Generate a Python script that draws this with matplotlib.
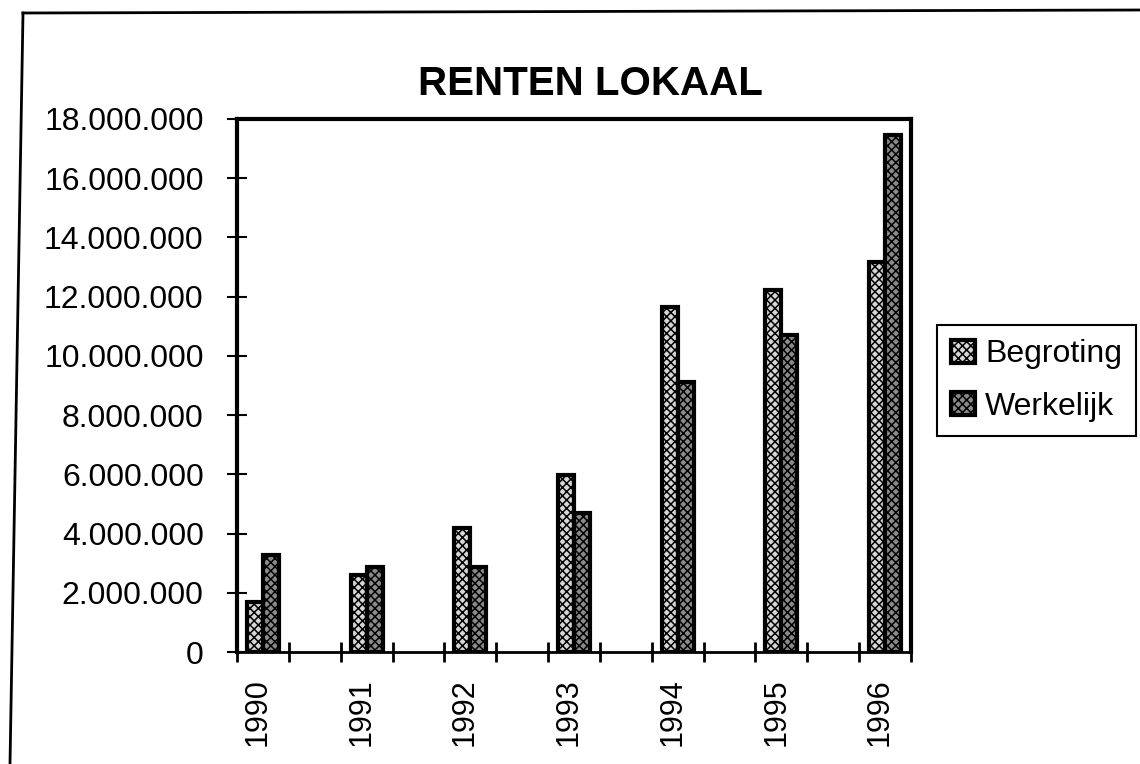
import numpy as np
import matplotlib
matplotlib.use("Agg")
import matplotlib.pyplot as plt
from matplotlib.lines import Line2D
from matplotlib.ticker import FuncFormatter

years = ["1990", "1991", "1992", "1993", "1994", "1995", "1996"]
begroting = [1_690_000, 2_600_000, 4_180_000, 5_980_000, 11_660_000, 12_230_000, 13_180_000]
werkelijk = [3_280_000, 2_870_000, 2_870_000, 4_700_000, 9_120_000, 10_700_000, 17_470_000]

plt.rcParams['font.family'] = ['Liberation Sans', 'DejaVu Sans']
plt.rcParams['hatch.linewidth'] = 1.1

fig = plt.figure(figsize=(11.4, 7.64), dpi=100)
ax = fig.add_axes([237 / 1140, 1 - 652 / 764, (911 - 237) / 1140, (652 - 119) / 764])

x = np.arange(len(years))
w = 0.155
ax.bar(x + 0.25 - w / 2, begroting, width=w, facecolor="#d6d6d6", edgecolor="black",
       hatch="xxxx", linewidth=3, label="Begroting", zorder=3)
ax.bar(x + 0.25 + w / 2, werkelijk, width=w, facecolor="#8a8a8a", edgecolor="black",
       hatch="xxxx", linewidth=3, label="Werkelijk", zorder=3)

ax.set_xlim(0, 6.5)
ax.set_ylim(0, 18_000_000)
ax.set_yticks(np.arange(0, 18_000_001, 2_000_000))
ax.yaxis.set_major_formatter(FuncFormatter(lambda v, p: f"{int(v):,}".replace(",", ".")))

ax.set_xticks(np.arange(0, 6.51, 0.5))
ax.set_xticklabels([])
ax.set_xticks(x + 0.2, minor=True)
ax.set_xticklabels(years, minor=True, rotation=90, fontsize=22)
ax.tick_params(axis="x", which="major", direction="inout", length=14, width=2)
ax.tick_params(axis="x", which="minor", length=0, pad=19)
ax.tick_params(axis="y", direction="inout", length=14, width=1.5, labelsize=23, pad=17)

for s in ax.spines.values():
    s.set_linewidth(3)
ax.spines["bottom"].set_linewidth(2)

fig.text(590 / 1140, 1 - 84 / 764, "RENTEN LOKAAL", ha="center", va="center",
         fontsize=29, fontweight="bold")

leg = fig.legend(loc="upper left", bbox_to_anchor=(937 / 1140, 1 - 325 / 764),
                 fontsize=23, fancybox=False, edgecolor="black", framealpha=1,
                 handlelength=0.75, handleheight=0.75, handletextpad=0.3,
                 labelspacing=0.7, borderpad=0.45, borderaxespad=0)
leg.get_frame().set_linewidth(1.5)

# scanned page border (slightly skewed)
fig.add_artist(Line2D([23 / 1140, 10 / 1140], [1 - 13 / 764, 0], color="black", lw=2))
fig.add_artist(Line2D([23 / 1140, 1], [1 - 13 / 764, 1 - 10 / 764], color="black", lw=2))

fig.savefig("out.png", dpi=100)
